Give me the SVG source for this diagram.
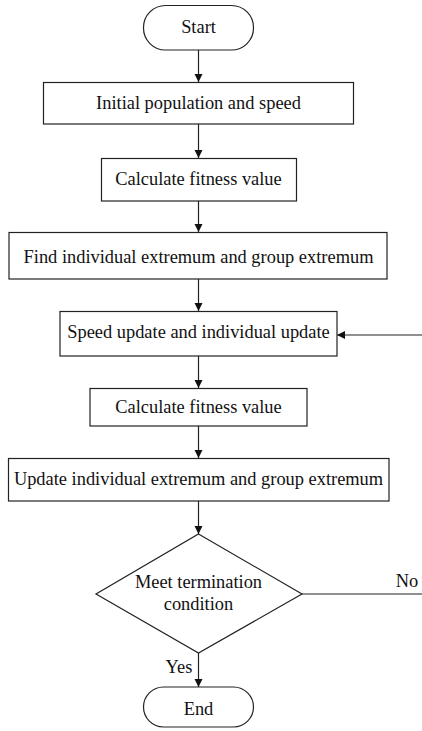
<svg xmlns="http://www.w3.org/2000/svg" width="422" height="731" viewBox="0 0 422 731">
<style>
.s{fill:#fff;stroke:#222;stroke-width:1.2}
.t{font-family:"Liberation Serif","Times New Roman",serif;font-size:18.4px;fill:#111;text-anchor:middle}
.c{stroke:#222;stroke-width:1.2;fill:none}
</style>
<defs>
<marker id="a" markerWidth="10" markerHeight="10" refX="9" refY="5" orient="auto" markerUnits="userSpaceOnUse">
<path d="M1,1 L9,5 L1,9 Z" fill="#111"/>
</marker>
</defs>
<rect width="422" height="731" fill="#fff"/>
<g id="connectors">
<line class="c" x1="198.5" y1="50" x2="198.5" y2="82" marker-end="url(#a)"/>
<line class="c" x1="198.5" y1="124" x2="198.5" y2="158" marker-end="url(#a)"/>
<line class="c" x1="198.5" y1="201" x2="198.5" y2="232" marker-end="url(#a)"/>
<line class="c" x1="198.5" y1="279" x2="198.5" y2="311" marker-end="url(#a)"/>
<line class="c" x1="198.5" y1="356" x2="198.5" y2="388" marker-end="url(#a)"/>
<line class="c" x1="198.5" y1="426" x2="198.5" y2="458" marker-end="url(#a)"/>
<line class="c" x1="198.5" y1="501" x2="198.5" y2="534" marker-end="url(#a)"/>
<line class="c" x1="198.5" y1="653" x2="198.5" y2="687" marker-end="url(#a)"/>
<line class="c" x1="422" y1="335" x2="337" y2="335" marker-end="url(#a)"/>
<line class="c" x1="302" y1="594" x2="422" y2="594"/>
<text class="t" x="407" y="587">No</text>
<text class="t" x="179" y="673">Yes</text>
</g>
<g id="start">
<rect class="s" x="143.5" y="5.5" width="110" height="44.5" rx="22" ry="22"/>
<text class="t" x="198.5" y="33">Start</text>
</g>
<g id="init">
<rect class="s" x="43.5" y="82.5" width="310" height="41.5"/>
<text class="t" x="198.5" y="109">Initial population and speed</text>
</g>
<g id="fit1">
<rect class="s" x="101.5" y="158.5" width="195" height="42.5"/>
<text class="t" x="198.5" y="185">Calculate fitness value</text>
</g>
<g id="find">
<rect class="s" x="9" y="232.5" width="378" height="46.5"/>
<text class="t" x="198.5" y="263">Find individual extremum and group extremum</text>
</g>
<g id="speed">
<rect class="s" x="60" y="311.5" width="277" height="44.5"/>
<text class="t" x="198.5" y="338">Speed update and individual update</text>
</g>
<g id="fit2">
<rect class="s" x="90" y="388.5" width="217" height="37.5"/>
<text class="t" x="198.5" y="413">Calculate fitness value</text>
</g>
<g id="update">
<rect class="s" x="8.5" y="458.5" width="380.5" height="42.5"/>
<text class="t" x="198.5" y="485">Update individual extremum and group extremum</text>
</g>
<g id="cond">
<polygon class="s" points="198.5,534 302,594 198.5,653 96,594"/>
<text class="t" x="198.5" y="588">Meet termination</text>
<text class="t" x="198.5" y="610">condition</text>
</g>
<g id="end">
<rect class="s" x="143.5" y="687" width="110" height="40" rx="20" ry="20"/>
<text class="t" x="198.5" y="715">End</text>
</g>
</svg>
